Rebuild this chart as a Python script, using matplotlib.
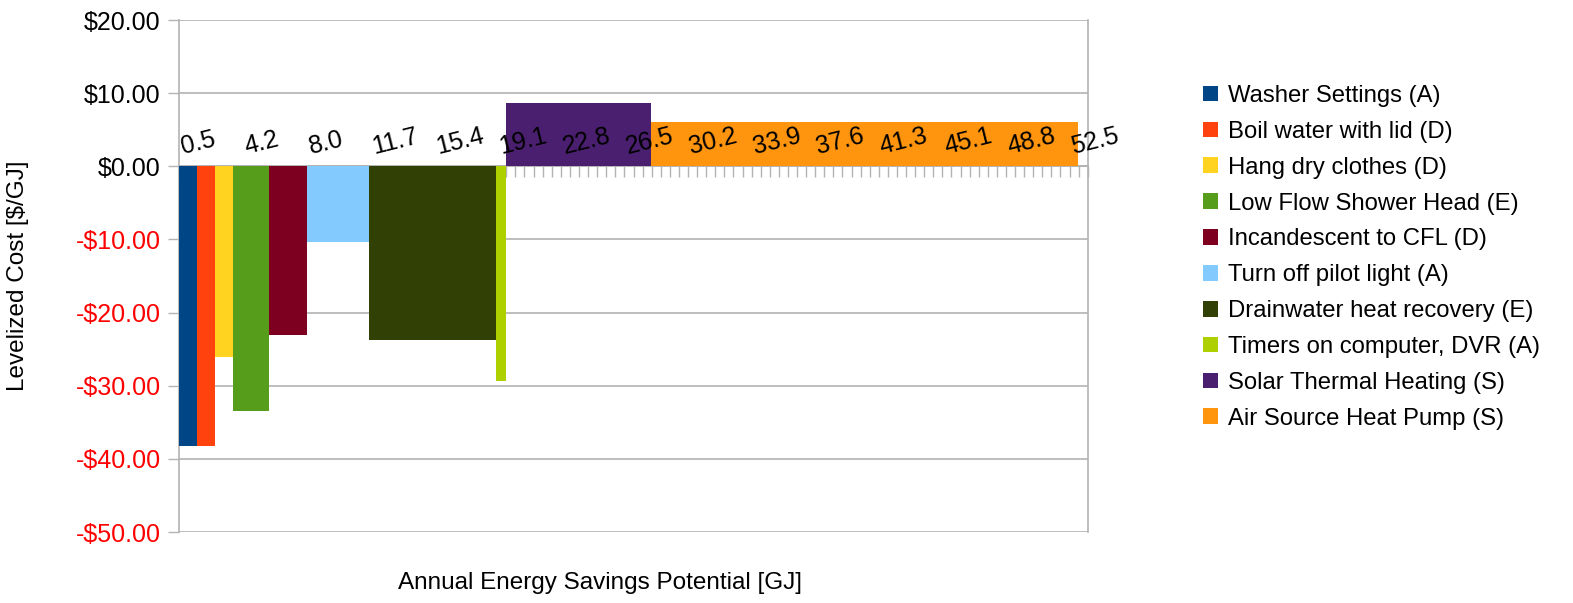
import matplotlib.pyplot as plt
import numpy as np
from matplotlib.patches import Patch
from matplotlib.ticker import FuncFormatter

plt.rcParams["font.family"] = ["Liberation Sans", "DejaVu Sans"]

# measures, savings potential [GJ] and levelized cost [$/GJ]
measures = [
    "Washer Settings (A)",
    "Boil water with lid (D)",
    "Hang dry clothes (D)",
    "Low Flow Shower Head (E)",
    "Incandescent to CFL (D)",
    "Turn off pilot light (A)",
    "Drainwater heat recovery (E)",
    "Timers on computer, DVR (A)",
    "Solar Thermal Heating (S)",
    "Air Source Heat Pump (S)",
]
savings = [1.03, 1.05, 1.05, 2.13, 2.19, 3.62, 7.41, 0.58, 8.52, 24.93]
costs = [-38.3, -38.3, -26.1, -33.5, -23.0, -10.4, -23.8, -29.3, 8.6, 6.1]
colors = ["#004586", "#ff420e", "#ffd320", "#579d1c", "#7e0021",
          "#83caff", "#314004", "#aecf00", "#4b1f6f", "#ff950e"]

x_labels = ["0.5", "4.2", "8.0", "11.7", "15.4", "19.1", "22.8", "26.5",
            "30.2", "33.9", "37.6", "41.3", "45.1", "48.8", "52.5"]

grid_col = "#b3b3b3"

fig = plt.figure(figsize=(15.73, 6.03), dpi=100)
ax = fig.add_axes([179.3 / 1573, 1 - 532 / 603, (1087.7 - 179.3) / 1573, (532 - 20) / 603])

lefts = np.concatenate([[0], np.cumsum(savings)[:-1]])
ax.bar(lefts, costs, width=savings, align="edge", color=colors, linewidth=0, zorder=2)

# category axis: 7 small ticks between each labelled value
step = (float(x_labels[-1]) - float(x_labels[0])) / ((len(x_labels) - 1) * 7)
ax.set_xlim(0, 100 * step)
ax.set_ylim(-50, 20)
ax.set_xticks([])
ax.set_xticks(np.arange(101) * step, minor=True)
ax.tick_params(axis="x", which="minor", direction="out", length=7.9, width=1,
               color=grid_col, labelbottom=False)

for lab in x_labels:
    ax.annotate(lab, xy=(float(lab), 0), xytext=(-5, 12), textcoords="offset pixels",
                ha="left", va="baseline", rotation=14, rotation_mode="anchor",
                fontsize=18, zorder=3)

ax.set_yticks(np.arange(-50, 21, 10))
ax.yaxis.set_major_formatter(FuncFormatter(
    lambda v, p: f"-${abs(v):.2f}" if v < 0 else f"${v:.2f}"))
ax.tick_params(axis="y", direction="out", length=7.9, width=1, color=grid_col,
               pad=5.5, labelsize=18)
for t, v in zip(ax.get_yticklabels(), ax.get_yticks()):
    t.set_color("#ff0000" if v < 0 else "black")

ax.grid(axis="y", color=grid_col, linewidth=1.2)
ax.set_axisbelow(True)

ax.spines["top"].set_visible(False)
ax.spines["bottom"].set_position(("data", 0))
for side in ["left", "right", "bottom"]:
    ax.spines[side].set_color(grid_col)
    ax.spines[side].set_linewidth(1.2)
    ax.spines[side].set_zorder(0.5)

fig.text(18 / 1573, 1 - 276 / 603, "Levelized Cost [$/GJ]", rotation=90,
         ha="center", va="center", fontsize=17.5)
fig.text(600 / 1573, 1 - 583 / 603, "Annual Energy Savings Potential [GJ]",
         ha="center", va="center", fontsize=17.5)

handles = [Patch(facecolor=c, edgecolor="none") for c in colors]
fig.legend(handles, measures, loc="upper left", bbox_to_anchor=(1203 / 1573, 1 - 85 / 603),
           bbox_transform=fig.transFigure, frameon=False, fontsize=17.2,
           handlelength=0.64, handleheight=0.64, handletextpad=0.4,
           labelspacing=0.58, borderpad=0, borderaxespad=0)

fig.savefig("out.png", dpi=100)
